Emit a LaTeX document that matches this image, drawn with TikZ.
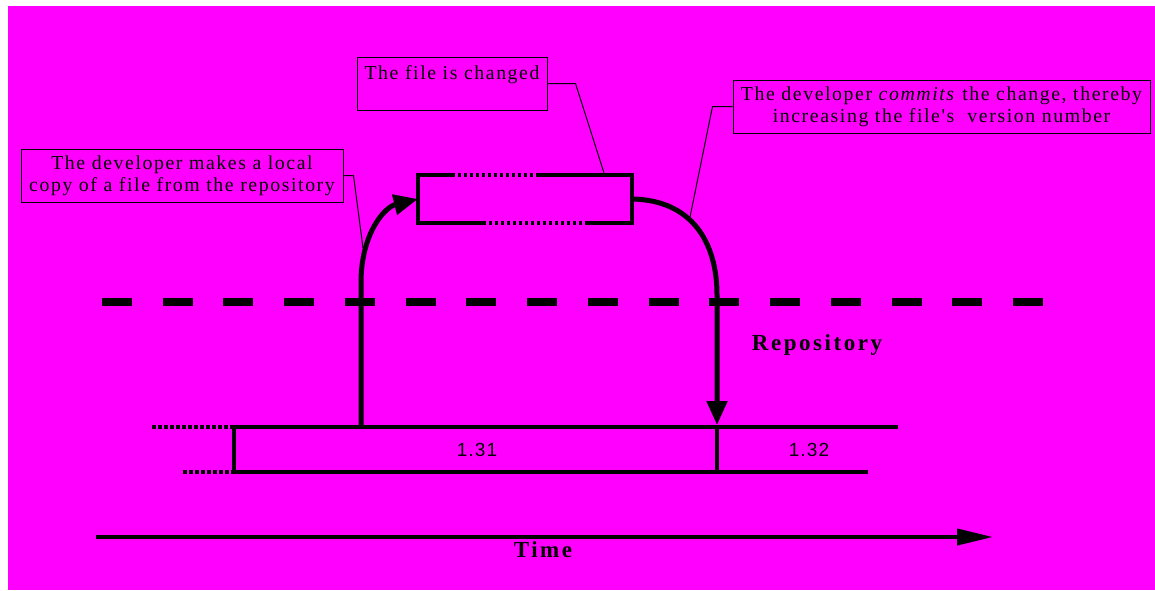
\documentclass[tikz,border=0pt]{standalone}
\usepackage{fontspec}
\setmainfont{Liberation Serif}
\newfontfamily\notefont[LetterSpace=8]{Liberation Serif}
\newfontfamily\labelfont[LetterSpace=11]{Liberation Serif}
\newfontfamily\numfont[LetterSpace=6]{Liberation Sans}
\usetikzlibrary{arrows.meta}
\definecolor{bgmagenta}{RGB}{255,0,255}

\begin{document}
\begin{tikzpicture}[x=1pt,y=-1pt,
  note/.style={draw,line width=1pt,inner sep=0pt,align=center,
    font=\notefont\fontsize{19.8}{22}\selectfont},
  leader/.style={line width=1pt},
  heavy/.style={line width=4.5pt},
  dotty/.style={line width=4.5pt,dash pattern=on 3.5pt off 2.5pt},
  flow/.style={line width=5pt,-{Triangle[length=24pt,width=20pt]}},
  version/.style={font=\numfont\fontsize{19}{19}\selectfont},
  tag/.style={font=\labelfont\bfseries\fontsize{23}{23}\selectfont}
]
% page and coloured panel
\useasboundingbox (0,0) rectangle (1155,590);
\fill[white] (0,0) rectangle (1155,590);
\fill[bgmagenta] (8,6) rectangle (1155,590);

% boundary between working copy and repository
\draw[line width=8pt,dash pattern=on 30pt off 30.73pt] (102,302) -- (1043,302);

% explanatory notes
\node[note,minimum width=322pt,minimum height=53pt] (checkoutnote) at (182,175.5)
  {The developer makes a local\\copy of a file from the repository};
\node[note,minimum width=190pt,minimum height=53pt,align=left] (editnote) at (452,83.5)
  {The file is changed\\\mbox{}};
\node[note,minimum width=417pt,minimum height=53pt] (commitnote) at (941.5,106.5)
  {The developer \textit{commits} the change, thereby\\increasing the file's~ version number};

% the local working copy
\node[minimum width=214pt,minimum height=48pt,inner sep=0pt] (file) at (525,199) {};
\draw[heavy] ([xshift=34pt]file.north west) -- (file.north west) -- (file.south west)
  -- ([xshift=65pt]file.south west);
\draw[heavy] ([xshift=-94pt]file.north east) -- (file.north east) -- (file.south east)
  -- ([xshift=-47pt]file.south east);
\draw[dotty] ([xshift=34pt]file.north west) -- ([xshift=-94pt]file.north east);
\draw[dotty] ([xshift=65pt]file.south west) -- ([xshift=-47pt]file.south east);

% repository history
\coordinate (checkout) at (361,427);
\coordinate (commit) at (717,427);
\draw[heavy] (898,427) -- (234,427) -- (234,472) -- (868,472);
\draw[heavy] (commit) -- (717,472);
\draw[dotty] (152,427) -- (234,427);
\draw[dotty] (183,472) -- (234,472);
\node[version] (v131) at (477,450) {1.31};
\node[version] (v132) at (809,450) {1.32};
\node[tag] (repo) at (817,345) {Repository};

% check-out and commit arrows
\draw[flow] (checkout) -- (361,280) .. controls (362,232) and (385,207) .. (file.west);
\draw[flow] (file.east) .. controls (690,200) and (717,240) .. (717,295) -- ([yshift=2pt]commit);

% leader lines from the notes
\coordinate (c1) at (363,248);
\coordinate (c2) at (604,173);
\coordinate (c3) at (690,217);
\draw[leader] (checkoutnote.east) -- ++(10,0) -- (c1);
\draw[leader] (editnote.east) -- ++(28,0) -- (c2);
\draw[leader] (commitnote.west) -- ++(-20,0) -- (c3);

% time axis
\coordinate (t0) at (96,537);
\coordinate (t1) at (993,537);
\draw[line width=4pt,-{Triangle[length=36pt,width=16pt]}] (t0) -- (t1);
\node[tag] (time) at (543,550) {Time};
\end{tikzpicture}
\end{document}
